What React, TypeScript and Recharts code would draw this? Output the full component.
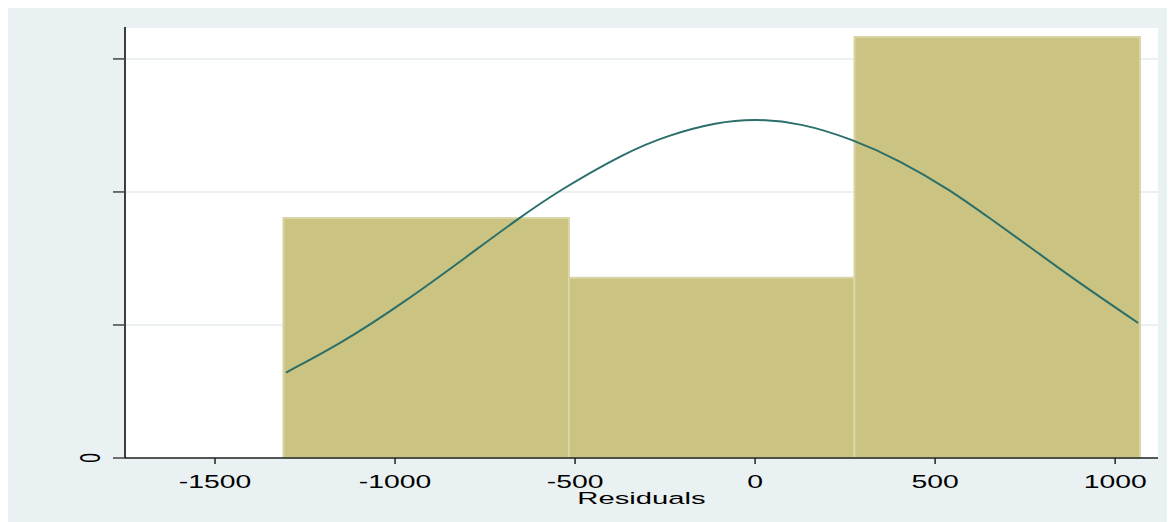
import React from "react";
import {
  ComposedChart,
  Line,
  XAxis,
  YAxis,
  CartesianGrid,
  ReferenceArea,
} from "recharts";

// Histogram bins (residuals) and their densities
const binStarts = [-1310, -517, 276];
const binEnds = [-517, 276, 1069];
const binDensity = [0.000361, 0.000271, 0.000633];

// Normal density overlay
const curveX = [-1303, -1150, -972, -800, -658, -542, -361, -244, -106, 0, 125, 272, 403, 542, 653, 764, 903, 1064];
const curveY = [
  0.0001285, 0.000172, 0.000235, 0.000303, 0.00036, 0.000403, 0.000459, 0.000485, 0.000505, 0.00051,
  0.000504, 0.000479, 0.000447, 0.000403, 0.00036, 0.000317, 0.000262, 0.000203,
];

const xTicks = [-1500, -1000, -500, 0, 500, 1000];
const yTicks = [0, 0.0002, 0.0004, 0.0006];

const curveData = curveX.map((x, i) => ({ x, y: curveY[i] }));

const FONT = "'Liberation Sans', Arial, Helvetica, sans-serif";

const XTick = (props: any) => {
  const { x, y, payload } = props;
  return (
    <g transform={`translate(${x},${y + 22})`}>
      <text
        transform="scale(1.62,1)"
        textAnchor="middle"
        fontFamily={FONT}
        fontSize={17.5}
        fill="#000"
      >
        {payload.value}
      </text>
    </g>
  );
};

const YTick = (props: any) => {
  const { y, payload } = props;
  if (payload.value !== 0) return null;
  return (
    <g transform={`translate(${90 - 8},${y})`}>
      <text
        transform="rotate(-90) scale(1,1.7)"
        textAnchor="middle"
        dominantBaseline="central"
        fontFamily={FONT}
        fontSize={17.5}
        fill="#000"
      >
        0
      </text>
    </g>
  );
};

const XLabel = (props: any) => {
  const { viewBox } = props;
  const cx = viewBox.x + viewBox.width / 2;
  const cy = viewBox.y + 46;
  return (
    <g transform={`translate(${cx},${cy})`}>
      <text
        transform="scale(1.72,1)"
        textAnchor="middle"
        fontFamily={FONT}
        fontSize={17}
        fill="#000"
      >
        Residuals
      </text>
    </g>
  );
};

export default function App() {
  return (
    <div style={{ width: 1167, height: 514, background: "#EAF1F3" }}>
      <ComposedChart
        width={1167}
        height={514}
        data={curveData}
        margin={{ top: 19, right: 17, left: 0, bottom: 0 }}
      >
        <CartesianGrid
          vertical={false}
          horizontal={true}
          stroke="#EAF1F3"
          strokeWidth={2}
          fill="#ffffff"
          fillOpacity={1}
        />
        <XAxis
          type="number"
          dataKey="x"
          domain={[-1750, 1119]}
          ticks={xTicks}
          allowDataOverflow
          height={64}
          tickSize={6}
          tick={<XTick />}
          tickLine={{ stroke: "#222", strokeWidth: 1.5 }}
          axisLine={{ stroke: "#222", strokeWidth: 1.5 }}
          label={<XLabel />}
          interval={0}
        />
        <YAxis
          type="number"
          domain={[0, 0.000648]}
          ticks={yTicks}
          allowDataOverflow
          width={117}
          tickSize={12}
          tick={<YTick />}
          tickLine={{ stroke: "#444", strokeWidth: 1.5 }}
          axisLine={{ stroke: "#000", strokeWidth: 1.5 }}
          interval={0}
        />
        {binStarts.map((s, i) => (
          <ReferenceArea
            key={i}
            x1={s}
            x2={binEnds[i]}
            y1={0}
            y2={binDensity[i]}
            fill="#CBC382"
            fillOpacity={1}
            stroke="#DAD5A6"
            strokeWidth={2}
            strokeOpacity={1}
            ifOverflow="visible"
          />
        ))}
        <Line
          type="basis"
          dataKey="y"
          stroke="#2A6F69"
          strokeWidth={2}
          dot={false}
          activeDot={false}
          isAnimationActive={false}
        />
      </ComposedChart>
    </div>
  );
}
